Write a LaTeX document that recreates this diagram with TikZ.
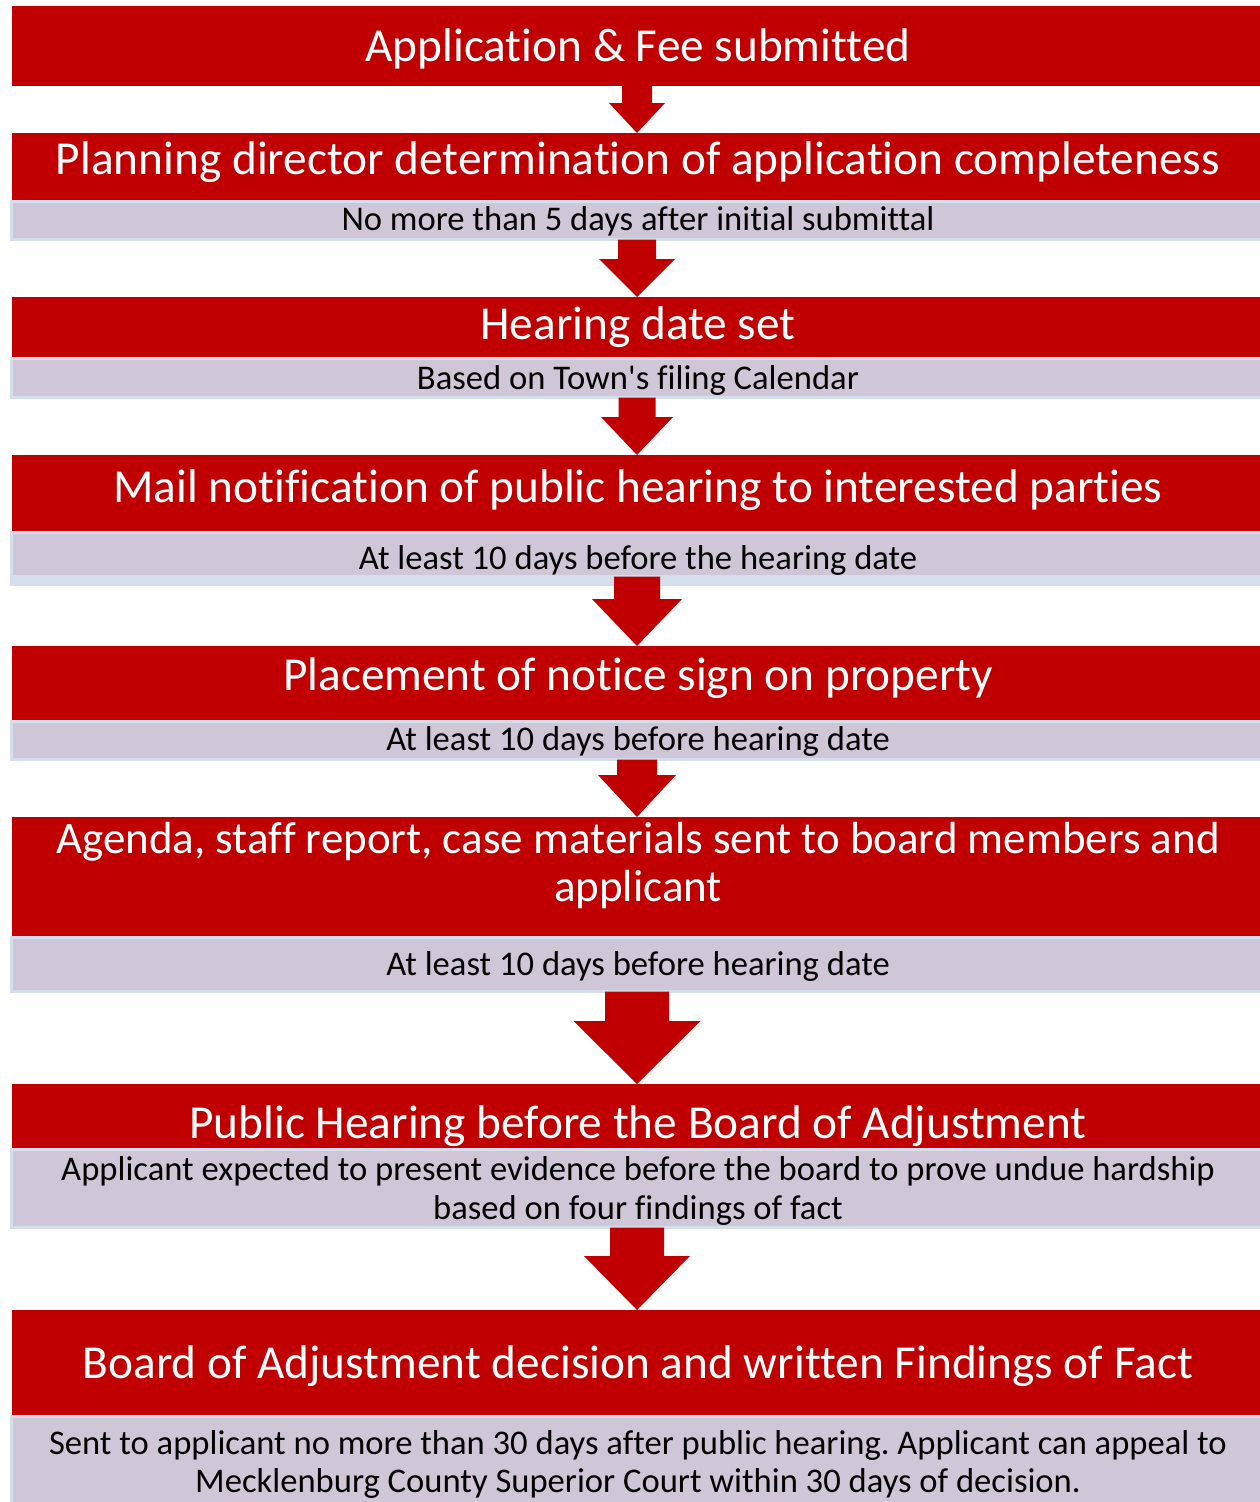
\documentclass[tikz,border=0pt]{standalone}
\usepackage{fontspec}
\newfontfamily\calfont{Carlito}[Ligatures=NoCommon]
\usetikzlibrary{calc}
\frenchspacing
\definecolor{boxred}{HTML}{C00000}
\definecolor{bandgray}{HTML}{CFC7D7}
\definecolor{bandedge}{HTML}{D4DEED}
\newcommand\flowarrow[5]{%
  \fill[boxred] let \p1=(#2.north), \p2=(#1.south) in
    (\x1-#3pt,\y2) -- (\x1+#3pt,\y2) -- (\x1+#3pt,\y1+#5pt) -- (\x1+#4pt,\y1+#5pt)
    -- (\x1,\y1) -- (\x1-#4pt,\y1+#5pt) -- (\x1-#3pt,\y1+#5pt) -- cycle;}
\begin{document}
\begin{tikzpicture}[x=1pt,y=-1pt,
  redbox/.style={fill=boxred, draw=none, inner sep=0, outer sep=0, minimum width=1250, anchor=north west},
  band/.style={fill=bandgray, draw=bandedge, line width=3pt, inner sep=0, outer sep=0, minimum width=1250, anchor=north west},
  title/.style={text=white, font=\calfont\fontsize{47.3}{48}\selectfont, inner sep=0, anchor=base},
  sub/.style={text=black, font=\calfont\fontsize{34.6}{39}\selectfont, inner sep=0, anchor=base}]
\useasboundingbox (0,0) rectangle (1260,1502);
\fill[white] (0,0) rectangle (1260,1502);

% boxes
\node[redbox, minimum height=80] (r1) at (12,6) {};
\node[redbox, minimum height=67] (r2) at (12,133) {};
\node[band, minimum height=38] (g2) at (11.5,201.5) {};
\node[redbox, minimum height=60] (r3) at (12,297) {};
\node[band, minimum height=39] (g3) at (11.5,358.5) {};
\node[redbox, minimum height=76] (r4) at (12,455) {};
\fill[bandedge] (10,570) rectangle (1262,586);
\node[band, minimum height=44] (g4) at (11.5,532.5) {};
\node[redbox, minimum height=74] (r5) at (12,646) {};
\node[band, minimum height=38] (g5) at (11.5,721.5) {};
\node[redbox, minimum height=119] (r6) at (12,817) {};
\node[band, minimum height=54] (g6) at (11.5,937.5) {};
\node[redbox, minimum height=64] (r7) at (12,1084) {};
\node[band, minimum height=78] (g7) at (11.5,1149.5) {};
\node[redbox, minimum height=105] (r8) at (12,1310) {};
\node[band, minimum height=90] (g8) at (11.5,1416.5) {};

% arrows
\flowarrow{r1}{r2}{15}{28}{30}
\flowarrow{g2}{r3}{19}{38}{38}
\flowarrow{g3}{r4}{18.5}{36}{38}
\flowarrow{g4}{r5}{23}{45}{47}
\flowarrow{g5}{r6}{20}{39}{42}
\flowarrow{g6}{r7}{32}{63.5}{63}
\flowarrow{g7}{r8}{27}{53}{54}

% texts
\node[title] (t1) at (638,61) {Application \& Fee submitted};
\node[title] (t2) at (638,174) {Planning director determination of application completeness};
\node[sub] (s2) at (638,230) {No more than 5 days after initial submittal};
\node[title] (t3) at (638,339) {Hearing date set};
\node[sub] (s3) at (638,389) {Based on Town's filing Calendar};
\node[title] (t4) at (638,502) {Mail notification of public hearing to interested parties};
\node[sub] (s4) at (638,569) {At least 10 days before the hearing date};
\node[title] (t5) at (638,690) {Placement of notice sign on property};
\node[sub] (s5) at (638,750) {At least 10 days before hearing date};
\node[title, font=\calfont\fontsize{45}{48}\selectfont] (t6a) at (638,853) {Agenda, staff report, case materials sent to board members and};
\node[title, font=\calfont\fontsize{45}{48}\selectfont] (t6b) at (638,901) {applicant};
\node[sub] (s6) at (638,975) {At least 10 days before hearing date};
\node[title] (t7) at (638,1138) {Public Hearing before the Board of Adjustment};
\node[sub] (s7a) at (638,1180) {Applicant expected to present evidence before the board to prove undue hardship};
\node[sub] (s7b) at (638,1219) {based on four findings of fact};
\node[title] (t8) at (638,1378) {Board of Adjustment decision and written Findings of Fact};
\node[sub] (s8a) at (638,1454) {Sent to applicant no more than 30 days after public hearing. Applicant can appeal to};
\node[sub] (s8b) at (638,1492) {Mecklenburg County Superior Court within 30 days of decision.};
\end{tikzpicture}
\end{document}
